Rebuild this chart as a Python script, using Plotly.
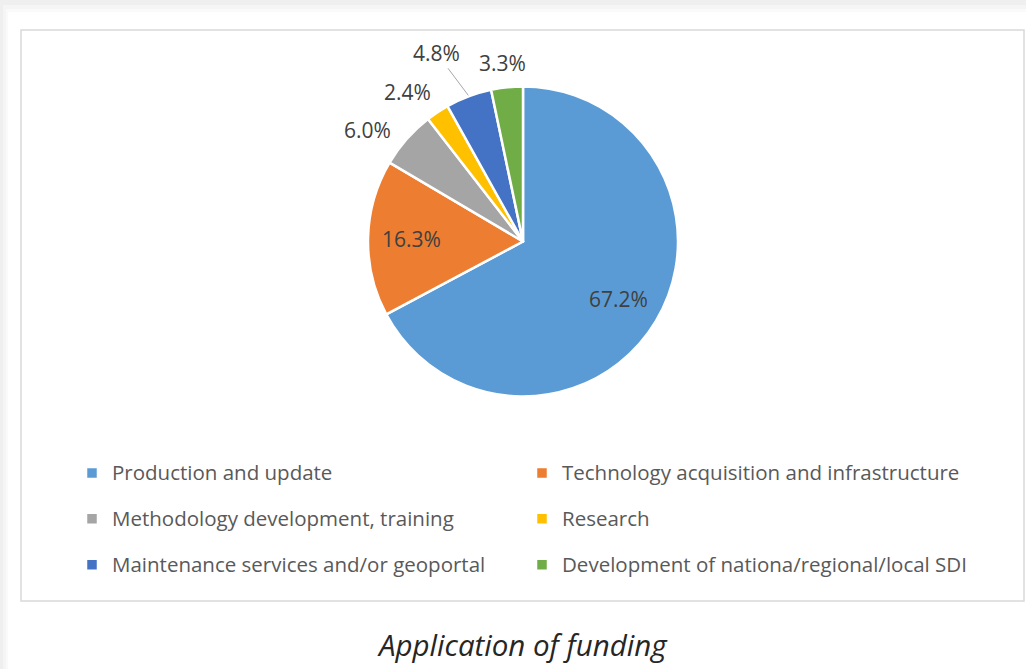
import math
import plotly.graph_objects as go

# Pie chart of funding application (Excel-style card)

labels = [
    "Production and update",
    "Technology acquisition and infrastructure",
    "Methodology development, training",
    "Research",
    "Maintenance services and/or geoportal",
    "Development of nationa/regional/local SDI",
]
shares = [67.2, 16.3, 6.0, 2.4, 4.8, 3.3]
colors = ["#5B9BD5", "#ED7D31", "#A5A5A5", "#FFC000", "#4472C4", "#70AD47"]
caption = "Application of funding"

W, H = 1026, 669
FONT = "Open Sans"
TXT = 21
LEG_TXT = 20.5

# pie centre / radius in pixels
cx, cy, r = 523, 241.5, 155


def px(x, y):
    return x / W, 1 - y / H


fig = go.Figure()
fig.add_trace(go.Pie(
    # big legend font sets the row pitch, the span keeps the text size normal
    labels=[f"<span style='font-size:{LEG_TXT}px;baseline-shift:6px'>{l}</span>" for l in labels],
    values=shares,
    sort=False,
    direction="clockwise",
    rotation=0,
    marker=dict(colors=colors, line=dict(color="white", width=2.5)),
    textinfo="none",
    domain=dict(x=[(cx - r) / W, (cx + r) / W], y=[(H - cy - r) / H, (H - cy + r) / H]),
    hoverinfo="percent",
))

# data labels, placed from the slice mid-angles
annotations = []
total = sum(shares)
cum = 0
for i, v in enumerate(shares):
    mid = (cum + v / 2) / total * 360
    cum += v
    txt = f"{v / total * 100:.1f}%"
    common = dict(text=txt, xref="paper", yref="paper", xanchor="center", yanchor="middle",
                  font=dict(family=FONT, size=TXT, color="#404040"))
    if v >= 10:
        a = math.radians(mid)
        x, y = px(cx + 0.72 * r * math.sin(a), cy - 0.72 * r * math.cos(a))
        annotations.append(dict(x=x, y=y, showarrow=False, **common))
        continue
    if i == 4:
        # crowded label pushed out with a leader line
        a = math.radians(mid)
        sx, sy = math.sin(a), -math.cos(a)
        d = r + 12 + 23 * abs(sx) + 10 * abs(sy)
        lx, ly = cx + d * sx, cy + d * sy
        tx, ty = cx + (r + 1) * sx, cy + (r + 1) * sy
        x, y = px(tx, ty)
        annotations.append(dict(x=x, y=y, ax=lx - 22 - tx, ay=ly - 16 - ty,
                                showarrow=True, arrowhead=0, arrowwidth=1,
                                arrowcolor="#a6a6a6", standoff=0, **common))
        continue
    # outside labels fan slightly away from the top
    a = math.radians(mid - 0.12 * (360 - mid))
    sx, sy = math.sin(a), -math.cos(a)
    d = r + 12 + 23 * abs(sx) + 10 * abs(sy)
    x, y = px(cx + d * sx, cy + d * sy)
    annotations.append(dict(x=x, y=y, showarrow=False, **common))

annotations.append(dict(
    text=caption, xref="paper", yref="paper",
    x=522 / W, y=1 - 644 / H, xanchor="center", yanchor="middle",
    showarrow=False,
    font=dict(family=FONT, size=29.5, color="#262626", style="italic"),
))

shapes = [
    # soft shadow of the card
    dict(type="rect", xref="paper", yref="paper", x0=0, x1=1, y0=0, y1=1,
         fillcolor="#efefef", line_width=0, layer="below"),
    dict(type="rect", xref="paper", yref="paper", x0=3 / W, x1=1, y0=0, y1=1 - 5 / H,
         fillcolor="#f5f5f5", line_width=0, layer="below"),
    dict(type="rect", xref="paper", yref="paper", x0=6 / W, x1=1, y0=0, y1=1 - 9 / H,
         fillcolor="#fafafa", line_width=0, layer="below"),
    dict(type="rect", xref="paper", yref="paper", x0=8 / W, x1=1, y0=0, y1=1 - 12 / H,
         fillcolor="white", line_width=0, layer="below"),
    # chart border
    dict(type="rect", xref="paper", yref="paper", x0=21 / W, x1=1024 / W,
         y0=1 - 601 / H, y1=1 - 30 / H,
         fillcolor="rgba(0,0,0,0)", line=dict(color="#d9d9d9", width=1.5), layer="below"),
]

fig.update_layout(
    width=W, height=H,
    margin=dict(l=0, r=0, t=0, b=0),
    paper_bgcolor="white",
    plot_bgcolor="white",
    showlegend=True,
    legend=dict(
        orientation="h",
        x=72 / W, xanchor="left",
        y=1 - 445 / H, yanchor="top",
        entrywidth=405, entrywidthmode="pixels",
        font=dict(family=FONT, size=33, color="#595959"),
        traceorder="normal",
    ),
    shapes=shapes,
    annotations=annotations,
)

fig.write_html("out.html", config={"displayModeBar": False},
               post_script="document.body.style.margin = '0';")
